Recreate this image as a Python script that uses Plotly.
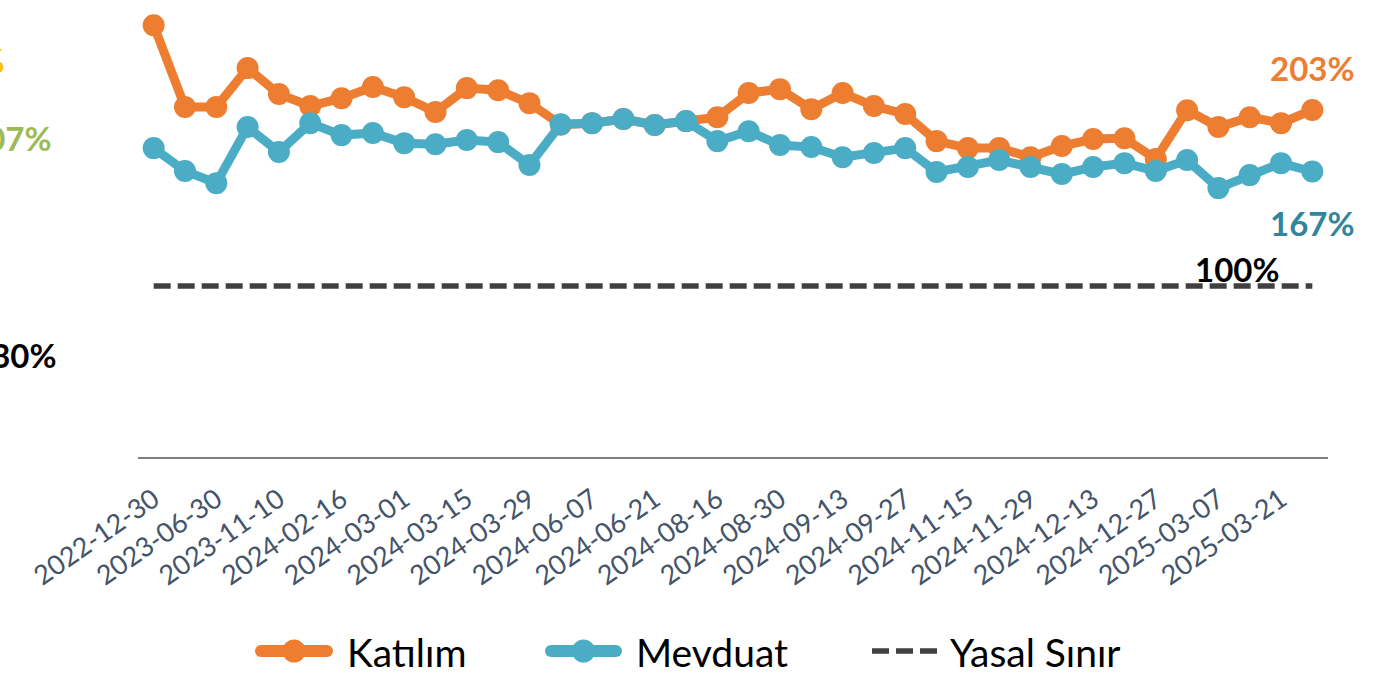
import plotly.graph_objects as go

categories = [
    "2022-12-30", "2023-03-31", "2023-06-30", "2023-09-29", "2023-11-10", "2023-12-29",
    "2024-02-16", "2024-02-23", "2024-03-01", "2024-03-08", "2024-03-15", "2024-03-22",
    "2024-03-29", "2024-05-03", "2024-06-07", "2024-06-14", "2024-06-21", "2024-07-19",
    "2024-08-16", "2024-08-23", "2024-08-30", "2024-09-06", "2024-09-13", "2024-09-20",
    "2024-09-27", "2024-10-25", "2024-11-15", "2024-11-22", "2024-11-29", "2024-12-06",
    "2024-12-13", "2024-12-20", "2024-12-27", "2025-01-31", "2025-03-07", "2025-03-14",
    "2025-03-21", "2025-03-28",
]
katilim = [
    252.6, 204.7, 204.7, 227.5, 212.3, 205.3, 209.9, 216.4, 210.5, 201.8,
    215.8, 214.6, 207.0, 194.4, 195.3, 197.7, 194.2, 196.5, 198.8, 212.9,
    215.2, 203.5, 212.9, 205.3, 200.6, 184.8, 180.7, 180.7, 175.4, 181.9,
    186.0, 186.5, 174.3, 202.9, 193.0, 198.8, 195.3, 203.0,
]
mevduat = [
    180.7, 167.3, 160.2, 193.0, 178.4, 195.3, 188.3, 189.5, 183.6, 183.0,
    185.4, 184.2, 170.8, 194.7, 195.3, 197.7, 194.2, 196.5, 184.8, 190.6,
    182.5, 181.3, 175.4, 177.8, 180.7, 166.7, 169.6, 173.7, 169.6, 165.5,
    169.6, 171.9, 167.3, 173.7, 157.3, 164.9, 171.9, 167.0,
]
yasal_sinir = [100] * len(categories)
tick_labels = categories[::2]

ORANGE = "#ED7D31"
TEAL = "#4BACC6"
TEAL_DARK = "#31859C"
DASH = "#404040"
FONT = "Lato"

W, H = 1389, 681
L, R, T, B = 138, 61, 4, 224
PW, PH = W - L - R, H - T - B


def px(x):
    return (x - L) / PW


def py(y):
    return (H - B - y) / PH


fig = go.Figure()
fig.add_trace(go.Scatter(
    x=categories, y=yasal_sinir, name="Yasal Sınır", mode="lines",
    line=dict(color=DASH, width=5.5, dash="17px,7px"), showlegend=False))
fig.add_trace(go.Scatter(
    x=categories, y=katilim, name="Katılım", mode="lines+markers",
    line=dict(color=ORANGE, width=9), marker=dict(color=ORANGE, size=22),
    showlegend=False))
fig.add_trace(go.Scatter(
    x=categories, y=mevduat, name="Mevduat", mode="lines+markers",
    line=dict(color=TEAL, width=9), marker=dict(color=TEAL, size=22),
    showlegend=False))

bold = dict(family=FONT, size=33, weight="bold")
annotations = [
    dict(x=categories[-1], y=katilim[-1], text=f"{katilim[-1]:.0f}%", showarrow=False,
         yshift=42, font=dict(bold, color=ORANGE)),
    dict(x=categories[-1], y=mevduat[-1], text=f"{mevduat[-1]:.0f}%", showarrow=False,
         yshift=-51, font=dict(bold, color=TEAL_DARK)),
    dict(x=34.6, y=yasal_sinir[-1], text=f"{yasal_sinir[-1]:.0f}%", showarrow=False,
         yshift=17, font=dict(bold, color="black")),
    # labels clipped at the far left edge
    dict(xref="paper", yref="paper", x=px(6), y=py(60), xanchor="right", yanchor="middle",
         text="207%", showarrow=False, font=dict(bold, color="#FFC000")),
    dict(xref="paper", yref="paper", x=px(53), y=py(138), xanchor="right", yanchor="middle",
         text="107%", showarrow=False, font=dict(bold, color="#9BBB59")),
    dict(xref="paper", yref="paper", x=px(58), y=py(355), xanchor="right", yanchor="middle",
         text="130%", showarrow=False, font=dict(bold, color="black")),
]

# custom legend
LEG_Y = 651
shapes = []
legend_items = [
    ("Katılım", ORANGE, 255, 333, 345, "solid"),
    ("Mevduat", TEAL, 545, 622, 634, "solid"),
    ("Yasal Sınır", DASH, 872, 937, 948, "dash"),
]
for name, color, x0, x1, tx, style in legend_items:
    if style == "solid":
        shapes.append(dict(type="line", xref="paper", yref="paper", x0=px(x0 + 6), x1=px(x1 - 6),
                           y0=py(LEG_Y), y1=py(LEG_Y), line=dict(color=color, width=12)))
        for ex in (x0 + 6, x1 - 6):
            shapes.append(dict(type="circle", xref="paper", yref="paper",
                               x0=px(ex - 6), x1=px(ex + 6), y0=py(LEG_Y + 6), y1=py(LEG_Y - 6),
                               fillcolor=color, line=dict(width=0)))
        cx = (x0 + x1) / 2
        shapes.append(dict(type="circle", xref="paper", yref="paper",
                           x0=px(cx - 11.5), x1=px(cx + 11.5),
                           y0=py(LEG_Y + 11.5), y1=py(LEG_Y - 11.5),
                           fillcolor=color, line=dict(width=0)))
    else:
        shapes.append(dict(type="line", xref="paper", yref="paper", x0=px(x0), x1=px(x1),
                           y0=py(LEG_Y), y1=py(LEG_Y),
                           line=dict(color=color, width=5.5, dash="17px,7px")))
    annotations.append(dict(xref="paper", yref="paper", x=px(tx), y=py(LEG_Y + 1),
                            xanchor="left", yanchor="middle", text=name, showarrow=False,
                            font=dict(family=FONT, size=39, color="black")))

fig.update_layout(
    width=W, height=H,
    margin=dict(l=L, r=R, t=T, b=B, pad=0),
    paper_bgcolor="white", plot_bgcolor="white",
    font=dict(family=FONT),
    xaxis=dict(
        type="category", range=[-0.5, len(categories) - 0.5],
        tickmode="array", tickvals=tick_labels, ticktext=tick_labels,
        tickangle=-35, tickfont=dict(family=FONT, size=27, color="#44546A"),
        ticklabelstandoff=14,
        showgrid=False, zeroline=False, showline=True, linecolor="#7F7F7F", linewidth=2,
        ticks="", ticklen=0,
    ),
    yaxis=dict(range=[0, 265], visible=False, showgrid=False, zeroline=False),
    shapes=shapes,
    annotations=annotations,
)

fig.write_html(
    "out.html",
    config={"displayModeBar": False},
    post_script="document.body.style.margin='0';document.body.style.overflow='hidden';",
)
